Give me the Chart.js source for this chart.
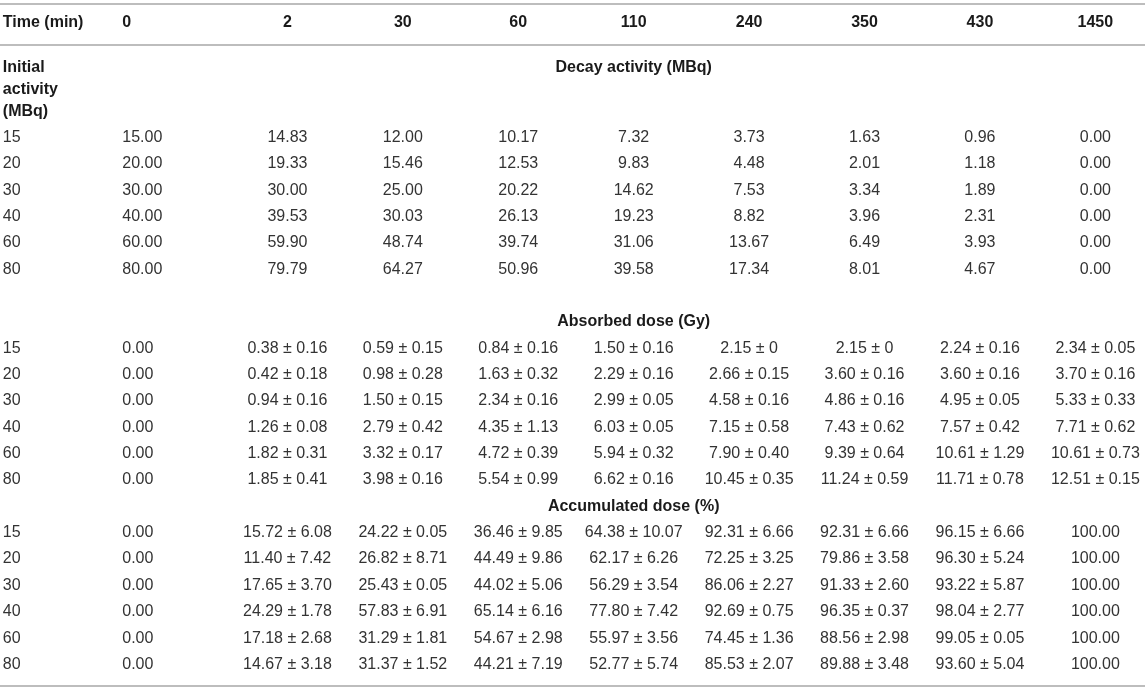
<!DOCTYPE html>
<html lang="en">
<head>
<meta charset="UTF-8">
<title>Decay activity and dose</title>
<script src="https://cdn.jsdelivr.net/npm/chart.js@4/dist/chart.umd.min.js"></script>
<style>
  html, body { margin: 0; padding: 0; background: #fff; }
  #wrap { width: 1145px; height: 690px; }
</style>
</head>
<body>
<div id="wrap"><canvas id="chart" width="1145" height="690"></canvas></div>
<script>
// column headers (minutes) and row labels (initial activity, MBq)
const times = ['0', '2', '30', '60', '110', '240', '350', '430', '1450'];
const initialActivity = ['15', '20', '30', '40', '60', '80'];

// Decay activity (MBq)
const decayActivity = [
    [15.00, 14.83, 12.00, 10.17, 7.32, 3.73, 1.63, 0.96, 0.00],
    [20.00, 19.33, 15.46, 12.53, 9.83, 4.48, 2.01, 1.18, 0.00],
    [30.00, 30.00, 25.00, 20.22, 14.62, 7.53, 3.34, 1.89, 0.00],
    [40.00, 39.53, 30.03, 26.13, 19.23, 8.82, 3.96, 2.31, 0.00],
    [60.00, 59.90, 48.74, 39.74, 31.06, 13.67, 6.49, 3.93, 0.00],
    [80.00, 79.79, 64.27, 50.96, 39.58, 17.34, 8.01, 4.67, 0.00]
];

// Absorbed dose (Gy), mean and sd (null = no sd shown)
const absorbedMean = [
    [0, 0.38, 0.59, 0.84, 1.50, 2.15, 2.15, 2.24, 2.34],
    [0, 0.42, 0.98, 1.63, 2.29, 2.66, 3.60, 3.60, 3.70],
    [0, 0.94, 1.50, 2.34, 2.99, 4.58, 4.86, 4.95, 5.33],
    [0, 1.26, 2.79, 4.35, 6.03, 7.15, 7.43, 7.57, 7.71],
    [0, 1.82, 3.32, 4.72, 5.94, 7.90, 9.39, 10.61, 10.61],
    [0, 1.85, 3.98, 5.54, 6.62, 10.45, 11.24, 11.71, 12.51]
];
const absorbedSd = [
    [null, 0.16, 0.15, 0.16, 0.16, 0, 0, 0.16, 0.05],
    [null, 0.18, 0.28, 0.32, 0.16, 0.15, 0.16, 0.16, 0.16],
    [null, 0.16, 0.15, 0.16, 0.05, 0.16, 0.16, 0.05, 0.33],
    [null, 0.08, 0.42, 1.13, 0.05, 0.58, 0.62, 0.42, 0.62],
    [null, 0.31, 0.17, 0.39, 0.32, 0.40, 0.64, 1.29, 0.73],
    [null, 0.41, 0.16, 0.99, 0.16, 0.35, 0.59, 0.78, 0.15]
];

// Accumulated dose (%)
const accumulatedMean = [
    [0, 15.72, 24.22, 36.46, 64.38, 92.31, 92.31, 96.15, 100],
    [0, 11.40, 26.82, 44.49, 62.17, 72.25, 79.86, 96.30, 100],
    [0, 17.65, 25.43, 44.02, 56.29, 86.06, 91.33, 93.22, 100],
    [0, 24.29, 57.83, 65.14, 77.80, 92.69, 96.35, 98.04, 100],
    [0, 17.18, 31.29, 54.67, 55.97, 74.45, 88.56, 99.05, 100],
    [0, 14.67, 31.37, 44.21, 52.77, 85.53, 89.88, 93.60, 100]
];
const accumulatedSd = [
    [null, 6.08, 0.05, 9.85, 10.07, 6.66, 6.66, 6.66, null],
    [null, 7.42, 8.71, 9.86, 6.26, 3.25, 3.58, 5.24, null],
    [null, 3.70, 0.05, 5.06, 3.54, 2.27, 2.60, 5.87, null],
    [null, 1.78, 6.91, 6.16, 7.42, 0.75, 0.37, 2.77, null],
    [null, 2.68, 1.81, 2.98, 3.56, 1.36, 2.98, 0.05, null],
    [null, 3.18, 1.52, 7.19, 5.74, 2.07, 3.48, 5.04, null]
];

// layout, in row / column units of the scales
const HEADER_ROW = -4.35;
const LABEL_ROWS = [-2.64, -1.80, -0.97];
const RULES = [-5.07, -3.51, 20.82];
const SECTION_START = [0, 8, 15];
const SECTION_TITLE = ['Decay activity (MBq)', 'Absorbed dose (Gy)', 'Accumulated dose (%)'];
const TITLE_ROW = [LABEL_ROWS[0], 7, 14];
const LEFT_PAD = { '-1': 4, '0': 8 };
const FONT = '"Liberation Sans", Arial, Helvetica, sans-serif';

const fmt = (m, s) => {
    if (s === null || s === undefined) return m.toFixed(2);
    return m.toFixed(2) + ' \u00b1 ' + (s === 0 ? '0' : s.toFixed(2));
};

const headerCells = [{ x: -1, y: HEADER_ROW, t: 'Time (min)' }]
    .concat(times.map((t, i) => ({ x: i, y: HEADER_ROW, t: t })));
const labelCells = ['Initial', 'activity', '(MBq)'].map((t, i) => ({ x: -1, y: LABEL_ROWS[i], t: t }));
const titleCells = SECTION_TITLE.map((t, i) => ({ x: 4, y: TITLE_ROW[i], t: t, center: true }));

const bodyCells = [];
[[decayActivity, null], [absorbedMean, absorbedSd], [accumulatedMean, accumulatedSd]].forEach((sec, s) => {
    initialActivity.forEach((a, r) => {
        const y = SECTION_START[s] + r;
        bodyCells.push({ x: -1, y: y, t: a });
        sec[0][r].forEach((m, c) => {
            bodyCells.push({ x: c, y: y, t: fmt(m, sec[1] ? sec[1][r][c] : null) });
        });
    });
});

const tableText = {
    id: 'tableText',
    beforeDatasetsDraw(chart) {
        const ctx = chart.ctx;
        const ys = chart.scales.y;
        ctx.save();
        ctx.strokeStyle = '#bdbdbd';
        ctx.lineWidth = 2;
        RULES.forEach(v => {
            const y = Math.round(ys.getPixelForValue(v));
            ctx.beginPath();
            ctx.moveTo(chart.chartArea.left, y);
            ctx.lineTo(chart.chartArea.right, y);
            ctx.stroke();
        });
        ctx.restore();
    },
    afterDatasetsDraw(chart) {
        const ctx = chart.ctx;
        const xs = chart.scales.x;
        chart.data.datasets.forEach((ds, di) => {
            const meta = chart.getDatasetMeta(di);
            ctx.save();
            ctx.font = (ds.bold ? 'bold ' : '') + '16px ' + FONT;
            ctx.fillStyle = ds.bold ? '#1a1a1a' : '#333333';
            ctx.textBaseline = 'middle';
            meta.data.forEach((el, i) => {
                const cell = ds.data[i];
                let x = el.x;
                if (cell.center || cell.x > 0) {
                    ctx.textAlign = 'center';
                } else {
                    ctx.textAlign = 'left';
                    x = xs.getPixelForValue(cell.x - 0.5) + LEFT_PAD[String(cell.x)];
                }
                ctx.fillText(cell.t, x, el.y);
            });
            ctx.restore();
        });
    }
};

new Chart(document.getElementById('chart'), {
    type: 'scatter',
    data: {
        datasets: [
            { label: 'header', data: headerCells, bold: true },
            { label: 'rowlabel', data: labelCells, bold: true },
            { label: 'titles', data: titleCells, bold: true },
            { label: 'body', data: bodyCells, bold: false }
        ]
    },
    options: {
        responsive: false,
        animation: false,
        events: [],
        layout: { padding: 0 },
        elements: { point: { radius: 0, hoverRadius: 0 } },
        plugins: { legend: { display: false }, tooltip: { enabled: false } },
        scales: {
            x: { type: 'linear', min: -1.49, max: 8.43, display: false },
            y: { type: 'linear', min: -5.218, max: 20.968, reverse: true, display: false }
        }
    },
    plugins: [tableText]
});
</script>
</body>
</html>
